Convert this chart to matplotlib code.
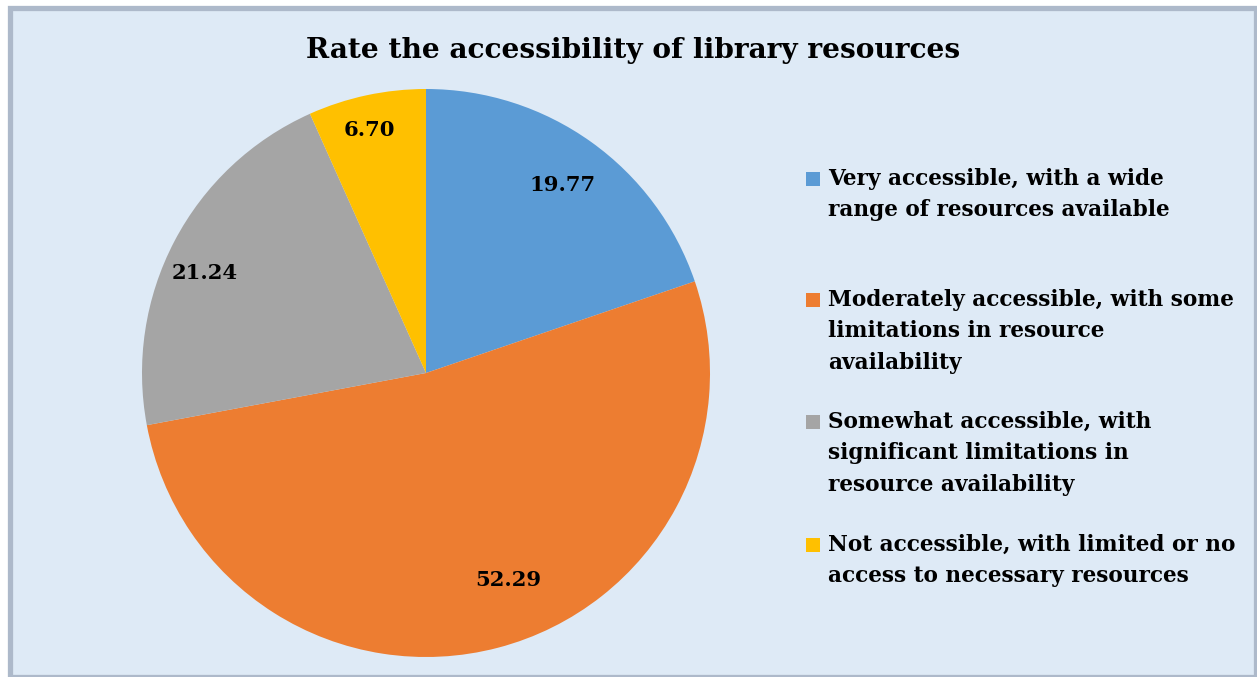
import matplotlib.pyplot as plt
import numpy as np
from matplotlib.patches import Rectangle

categories = [
    "Very accessible, with a wide\nrange of resources available",
    "Moderately accessible, with some\nlimitations in resource\navailability",
    "Somewhat accessible, with\nsignificant limitations in\nresource availability",
    "Not accessible, with limited or no\naccess to necessary resources",
]
values = [19.77, 52.29, 21.24, 6.70]
colors = ["#5B9BD5", "#ED7D31", "#A5A5A5", "#FFC000"]

W, H = 1257, 677
fig = plt.figure(figsize=(W / 100, H / 100), dpi=100, facecolor="white")
plt.rcParams["font.family"] = ["DejaVu Serif"]

# chart area background with a grey-blue frame
fig.patches.append(Rectangle((9.5 / W, 0), (W - 9.5) / W - 1.5 / W, (H - 7.5) / H,
                             transform=fig.transFigure, facecolor="#DEEAF6",
                             edgecolor="#ADB9CA", linewidth=3.8, zorder=-5))

cx, cy, r = 426, 373, 284
ax = fig.add_axes([(cx - r) / W, (H - cy - r) / H, 2 * r / W, 2 * r / H])
ax.set_zorder(2)
wedges, _ = ax.pie(values, colors=colors, startangle=90, counterclock=False,
                   wedgeprops=dict(linewidth=0))
ax.set_xlim(-1, 1)
ax.set_ylim(-1, 1)
ax.set_aspect("equal")

# value labels near each wedge's bisector (small angular nudges in degrees)
label_dist = [0.82, 0.785, 0.855, 0.88]
label_shift = [-0.4, 7, 3.3, 1]
for w, v, d, s in zip(wedges, values, label_dist, label_shift):
    ang = np.deg2rad((w.theta1 + w.theta2) / 2 + s)
    ax.text(d * np.cos(ang), d * np.sin(ang), f"{v:.2f}", ha="center", va="center",
            fontsize=15.2, fontweight="bold", color="black")

fig.text(633 / W, 1 - 50 / H, "Rate the accessibility of library resources",
         ha="center", va="center", fontsize=20.2, fontweight="bold")

# legend drawn by hand so the swatch lines up with the first text line
entry_y = [179, 300, 422, 545]
for lab, c, y in zip(categories, colors, entry_y):
    fig.patches.append(Rectangle((806 / W, 1 - (y + 7) / H), 14 / W, 14 / H,
                                 transform=fig.transFigure, facecolor=c,
                                 edgecolor="none", zorder=3))
    fig.text(828 / W, 1 - (y - 11) / H, lab, ha="left", va="top", fontsize=15.6,
             fontweight="bold", linespacing=1.55, zorder=3)

fig.savefig("out.png", dpi=100, facecolor="white")
